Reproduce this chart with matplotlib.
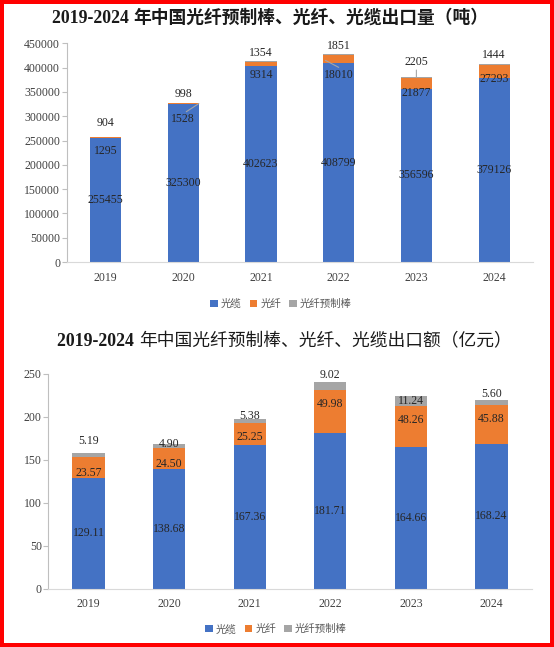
import numpy as np
import matplotlib.pyplot as plt
from matplotlib.transforms import offset_copy
from matplotlib.patches import Rectangle

plt.rcParams['font.family'] = ['Liberation Serif', 'Noto Sans CJK SC']
CJK = ['Noto Sans CJK SC', 'DejaVu Sans']

years = ['2019', '2020', '2021', '2022', '2023', '2024']
series_names = ['光缆', '光纤', '光纤预制棒']

# 出口量（吨）
vol_cable = [255455, 325300, 402623, 408799, 356596, 379126]
vol_fiber = [1295, 1528, 9314, 18010, 21877, 27293]
vol_preform = [904, 998, 1354, 1851, 2205, 1444]

# 出口额（亿元）
val_cable = [129.11, 138.68, 167.36, 181.71, 164.66, 168.24]
val_fiber = [23.57, 24.50, 25.25, 49.98, 48.26, 45.88]
val_preform = [5.19, 4.90, 5.38, 9.02, 11.24, 5.60]

# label nudges in pixels (the original labels were dragged by hand)
top_fiber_dy = [-12.8, -14.8, -8.6, -12, -4, -1]      # from top of cable segment
top_preform_dy = [13.5, 9, 8, 7.6, 15, 8.8]           # from top of bar
bot_fiber_dy = [-5.3, -4.6, -3, 7.4, 6.8, 5.4]        # from centre of fiber segment
bot_preform_dy = [12, 0, 2.5, 6.5, -5, 5.5]           # from top of bar

colors = ['#4472C4', '#ED7D31', '#A5A5A5']
LABEL_FS = 8.5
TXT = '#262626'

fig = plt.figure(figsize=(5.54, 6.47), dpi=100)


def style_axes(ax, ymax, step):
    ax.set_xlim(-0.5, len(years) - 0.5)
    ax.set_ylim(0, ymax)
    ax.set_yticks(np.arange(0, ymax + step, step))
    ax.set_xticks(range(len(years)))
    ax.set_xticklabels(years)
    for s in ['top', 'right']:
        ax.spines[s].set_visible(False)
    ax.spines['left'].set_color('#BFBFBF')
    ax.spines['bottom'].set_color('#D9D9D9')
    ax.spines['left'].set_linewidth(0.8)
    ax.spines['bottom'].set_linewidth(0.8)
    ax.tick_params(axis='y', length=3.5, width=0.8, color='#BFBFBF', pad=1.2,
                   labelsize=LABEL_FS, labelcolor='#404040')
    ax.tick_params(axis='x', length=0, pad=7, labelsize=LABEL_FS, labelcolor='#404040')


def stacked(ax, a, b, c):
    x = np.arange(len(years))
    w = 0.4
    ax.bar(x, a, w, color=colors[0], label=series_names[0])
    ax.bar(x, b, w, bottom=a, color=colors[1], label=series_names[1])
    ax.bar(x, c, w, bottom=np.add(a, b), color=colors[2], label=series_names[2])
    return x


def put(ax, x, y, s, dx=0, dy=0):
    ax.annotate(s, (x, y), xytext=(dx, dy), textcoords='offset pixels',
                ha='center', va='center', fontsize=LABEL_FS, color=TXT)


def leader(ax, x0, y0, dx0, dy0, x1, y1):
    tr = offset_copy(ax.transData, fig=fig, x=dx0, y=dy0, units='dots')
    ax.annotate('', xy=(x1, y1), xytext=(x0, y0), textcoords=tr,
                arrowprops=dict(arrowstyle='-', color='#A6A6A6', lw=0.8,
                                shrinkA=0, shrinkB=0))


def legend(ax, xc, yc):
    ax.legend(loc='center', bbox_to_anchor=(xc, yc), bbox_transform=fig.transFigure,
              ncol=3, frameon=False, prop={'family': CJK, 'size': 7.5},
              handlelength=0.7, handleheight=0.7, handletextpad=0.3,
              columnspacing=0.8, labelcolor='#595959')


def title(xc, y, head, tail, tail_weight):
    t1 = fig.text(0, y, head, fontsize=12.8, fontweight='bold', ha='left',
                  va='baseline', family='Liberation Serif', color='#1a1a1a')
    t2 = fig.text(0, y, tail, fontsize=12.8, fontweight=tail_weight, ha='left',
                  va='baseline', family=CJK, color='#1a1a1a')
    r = fig.canvas.get_renderer()
    w1 = t1.get_window_extent(r).width
    w2 = t2.get_window_extent(r).width
    W = fig.bbox.width
    x0 = xc * W - (w1 + w2) / 2
    t1.set_x(x0 / W)
    t2.set_x((x0 + w1) / W)


# ---- top: export volume ----
ax1 = fig.add_axes([0.1204, 0.595, 0.8416, 0.338])
x = stacked(ax1, vol_cable, vol_fiber, vol_preform)
style_axes(ax1, 450000, 50000)
for i in range(len(years)):
    total = vol_cable[i] + vol_fiber[i] + vol_preform[i]
    put(ax1, x[i], vol_cable[i] / 2, str(vol_cable[i]))
    put(ax1, x[i], vol_cable[i], str(vol_fiber[i]), dy=top_fiber_dy[i])
    put(ax1, x[i], total, str(vol_preform[i]), dy=top_preform_dy[i])
# leader lines
leader(ax1, x[1], vol_cable[1], 3, top_fiber_dy[1] + 7,
       x[1] + 0.2, vol_cable[1] + vol_fiber[1] / 2)
leader(ax1, x[3], vol_cable[3], 0, top_fiber_dy[3] + 8,
       x[3] - 0.17, vol_cable[3] + vol_fiber[3] * 0.34)
t3 = vol_cable[4] + vol_fiber[4] + vol_preform[4]
leader(ax1, x[4], t3, 0, top_preform_dy[4] - 8, x[4], t3)
legend(ax1, 0.507, 0.530)

# ---- bottom: export value ----
ax2 = fig.add_axes([0.0872, 0.0904, 0.8728, 0.3316])
x = stacked(ax2, val_cable, val_fiber, val_preform)
style_axes(ax2, 250, 50)
for i in range(len(years)):
    total = val_cable[i] + val_fiber[i] + val_preform[i]
    put(ax2, x[i], val_cable[i] / 2, f'{val_cable[i]:.2f}')
    put(ax2, x[i], val_cable[i] + val_fiber[i] / 2, f'{val_fiber[i]:.2f}', dy=bot_fiber_dy[i])
    put(ax2, x[i], total, f'{val_preform[i]:.2f}', dy=bot_preform_dy[i])
legend(ax2, 0.498, 0.0274)

title(0.487, 0.9645, '2019-2024 ', '年中国光纤预制棒、光纤、光缆出口量（吨）', 'bold')
title(0.5135, 0.465, '2019-2024 ', '年中国光纤预制棒、光纤、光缆出口额（亿元）', 'normal')

fig.add_artist(Rectangle((0, 0), 1, 1, transform=fig.transFigure, fill=False,
                         edgecolor='#FF0000', linewidth=5.76, zorder=10))

fig.savefig('out.png', dpi=100)
